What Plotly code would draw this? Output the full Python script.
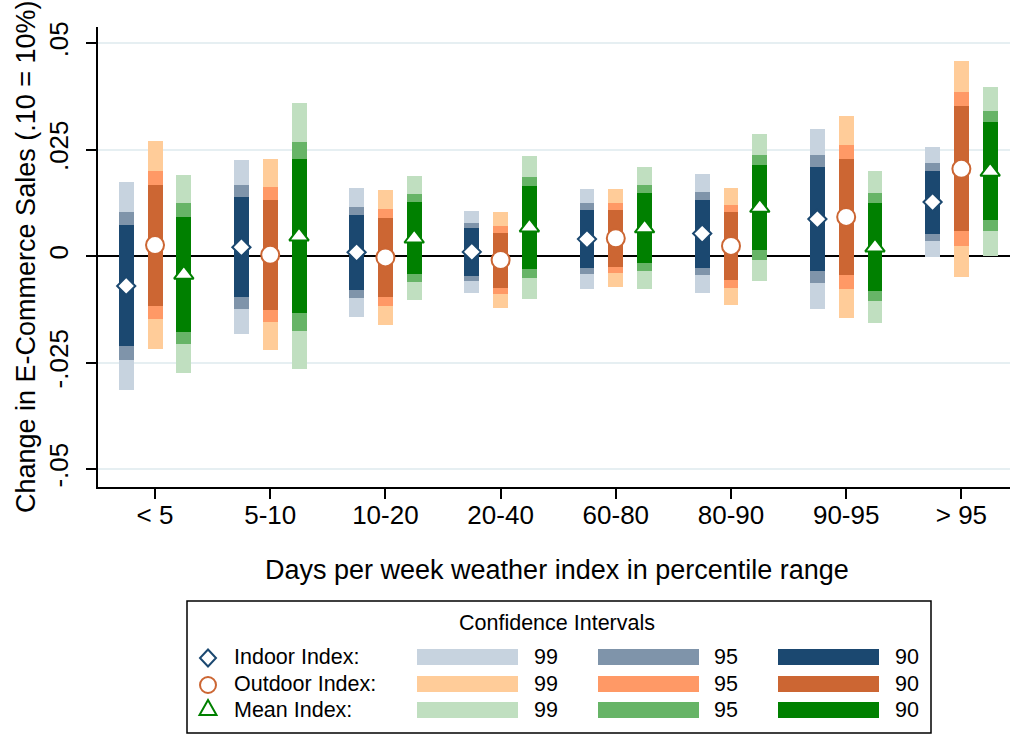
import plotly.graph_objects as go
import numpy as np

categories = ["< 5", "5-10", "10-20", "20-40", "60-80", "80-90", "90-95", "> 95"]

indoor_pt = [-0.0070, 0.0021, 0.0009, 0.0010, 0.0040, 0.0053, 0.0087, 0.0127]
indoor_lo90 = [-0.0211, -0.0096, -0.0079, -0.0047, -0.0027, -0.0027, -0.0036, 0.0052]
indoor_hi90 = [0.0072, 0.0139, 0.0096, 0.0066, 0.0108, 0.0133, 0.0210, 0.0201]
indoor_lo95 = [-0.0243, -0.0123, -0.0098, -0.0059, -0.0042, -0.0045, -0.0063, 0.0036]
indoor_hi95 = [0.0104, 0.0166, 0.0116, 0.0078, 0.0124, 0.0151, 0.0237, 0.0218]
indoor_lo99 = [-0.0314, -0.0182, -0.0142, -0.0087, -0.0076, -0.0086, -0.0125, -0.0002]
indoor_hi99 = [0.0175, 0.0225, 0.0160, 0.0106, 0.0157, 0.0193, 0.0299, 0.0256]

outdoor_pt = [0.0026, 0.0003, -0.0003, -0.0009, 0.0042, 0.0024, 0.0092, 0.0205]
outdoor_lo90 = [-0.0116, -0.0126, -0.0095, -0.0074, -0.0025, -0.0055, -0.0045, 0.0058]
outdoor_hi90 = [0.0167, 0.0133, 0.0089, 0.0055, 0.0108, 0.0103, 0.0229, 0.0352]
outdoor_lo95 = [-0.0148, -0.0155, -0.0116, -0.0089, -0.0039, -0.0074, -0.0077, 0.0024]
outdoor_hi95 = [0.0199, 0.0162, 0.0110, 0.0070, 0.0124, 0.0120, 0.0260, 0.0385]
outdoor_lo99 = [-0.0218, -0.0220, -0.0162, -0.0121, -0.0072, -0.0114, -0.0145, -0.0049]
outdoor_hi99 = [0.0270, 0.0228, 0.0156, 0.0103, 0.0157, 0.0160, 0.0329, 0.0459]

mean_pt = [-0.0043, 0.0047, 0.0042, 0.0068, 0.0066, 0.0114, 0.0021, 0.0199]
mean_lo90 = [-0.0177, -0.0134, -0.0042, -0.0029, -0.0016, 0.0014, -0.0082, 0.0084]
mean_hi90 = [0.0092, 0.0227, 0.0127, 0.0164, 0.0148, 0.0214, 0.0124, 0.0314]
mean_lo95 = [-0.0206, -0.0175, -0.0060, -0.0051, -0.0034, -0.0009, -0.0106, 0.0059]
mean_hi95 = [0.0124, 0.0268, 0.0146, 0.0185, 0.0167, 0.0237, 0.0148, 0.0340]
mean_lo99 = [-0.0274, -0.0265, -0.0103, -0.0100, -0.0077, -0.0059, -0.0157, 0.0001]
mean_hi99 = [0.0190, 0.0359, 0.0189, 0.0236, 0.0209, 0.0287, 0.0200, 0.0398]

ytick_vals = [-0.05, -0.025, 0, 0.025, 0.05]
ytick_text = ["-.05", "-.025", "0", ".025", ".05"]

FONT = "Liberation Sans, Arial, sans-serif"

series = [
    dict(name="Indoor Index:", off=-0.25, pt=indoor_pt,
         ci={99: (indoor_lo99, indoor_hi99), 95: (indoor_lo95, indoor_hi95), 90: (indoor_lo90, indoor_hi90)},
         colors={99: "#c7d3df", 95: "#7f94aa", 90: "#1b4870"},
         symbol="diamond", msize=14, lcolor="#1b4870"),
    dict(name="Outdoor Index:", off=0.0, pt=outdoor_pt,
         ci={99: (outdoor_lo99, outdoor_hi99), 95: (outdoor_lo95, outdoor_hi95), 90: (outdoor_lo90, outdoor_hi90)},
         colors={99: "#ffcc99", 95: "#ff9966", 90: "#cc6633"},
         symbol="circle", msize=18, lcolor="#cc6633"),
    dict(name="Mean Index:", off=0.25, pt=mean_pt,
         ci={99: (mean_lo99, mean_hi99), 95: (mean_lo95, mean_hi95), 90: (mean_lo90, mean_hi90)},
         colors={99: "#c0dfc0", 95: "#67b467", 90: "#008000"},
         symbol="triangle-up", msize=17, lcolor="#008000"),
]

idx = np.arange(len(categories))
BW = 0.13

fig = go.Figure()
for s in series:
    for lvl in (99, 95, 90):
        lo, hi = s["ci"][lvl]
        lo = np.array(lo)
        hi = np.array(hi)
        fig.add_trace(go.Bar(
            x=idx + s["off"], y=hi - lo, base=lo, width=BW,
            marker=dict(color=s["colors"][lvl], line=dict(width=0)),
            showlegend=False, hoverinfo="skip"))
for s in series:
    fig.add_trace(go.Scatter(
        x=idx + s["off"], y=s["pt"], mode="markers",
        marker=dict(symbol=s["symbol"], size=s["msize"], color="white",
                    line=dict(color=s["lcolor"], width=2)),
        showlegend=False, hoverinfo="skip", cliponaxis=False))

# Body margin is removed by post_script, so geometry below is in window pixels.
L, T, W, H = 98, 27, 912, 460
FW, FH = 1010, 736


def px(x):
    return (x - L) / W


def py(y):
    return (T + H - y) / H


shapes = []
annotations = []

# Axis titles
annotations.append(dict(text="Change in E-Commerce Sales (.10 = 10%)", xref="paper", yref="paper",
                        x=px(26), y=py(257), textangle=-90, showarrow=False,
                        xanchor="center", yanchor="middle",
                        font=dict(family=FONT, size=27, color="black")))
annotations.append(dict(text="Days per week weather index in percentile range", xref="paper", yref="paper",
                        x=px(557), y=py(570), showarrow=False, xanchor="center", yanchor="middle",
                        font=dict(family=FONT, size=27, color="black")))

# Legend box
shapes.append(dict(type="rect", xref="paper", yref="paper", x0=px(187), x1=px(931), y0=py(733), y1=py(601),
                   line=dict(color="black", width=1.5), fillcolor="white", layer="above"))
annotations.append(dict(text="Confidence Intervals", xref="paper", yref="paper", x=px(557), y=py(623),
                        showarrow=False, xanchor="center", yanchor="middle",
                        font=dict(family=FONT, size=21.5, color="black")))
row_y = [657, 684, 710]
sym_y = [658, 685, 708]
sw_x = [(417, 518, 546), (598, 699, 726), (778, 879, 907)]
levels = [99, 95, 90]
for s, ry, sy in zip(series, row_y, sym_y):
    cx = 208
    if s["symbol"] == "diamond":
        path = f"M {px(cx)} {py(sy-8.5)} L {px(cx+8)} {py(sy)} L {px(cx)} {py(sy+8.5)} L {px(cx-8)} {py(sy)} Z"
        shapes.append(dict(type="path", xref="paper", yref="paper", path=path,
                           line=dict(color=s["lcolor"], width=2), layer="above"))
    elif s["symbol"] == "circle":
        shapes.append(dict(type="circle", xref="paper", yref="paper", x0=px(cx-8), x1=px(cx+8),
                           y0=py(sy+8), y1=py(sy-8), line=dict(color=s["lcolor"], width=2), layer="above"))
    else:
        path = f"M {px(cx)} {py(sy-8)} L {px(cx+8.5)} {py(sy+7)} L {px(cx-8.5)} {py(sy+7)} Z"
        shapes.append(dict(type="path", xref="paper", yref="paper", path=path,
                           line=dict(color=s["lcolor"], width=2), layer="above"))
    annotations.append(dict(text=s["name"], xref="paper", yref="paper", x=px(232), y=py(ry),
                            showarrow=False, xanchor="left", yanchor="middle",
                            font=dict(family=FONT, size=21.5, color="black")))
    for (x0, x1, tx), lvl in zip(sw_x, levels):
        shapes.append(dict(type="rect", xref="paper", yref="paper", x0=px(x0), x1=px(x1),
                           y0=py(ry+8), y1=py(ry-8), fillcolor=s["colors"][lvl],
                           line=dict(width=0), layer="above"))
        annotations.append(dict(text=str(lvl), xref="paper", yref="paper", x=px(tx), y=py(ry),
                                showarrow=False, xanchor="center", yanchor="middle",
                                font=dict(family=FONT, size=21.5, color="black")))

fig.update_layout(
    width=FW, height=FH,
    margin=dict(l=L, r=FW - L - W, t=T, b=FH - T - H, pad=0),
    paper_bgcolor="white", plot_bgcolor="white",
    barmode="overlay", bargap=0,
    showlegend=False,
    shapes=shapes, annotations=annotations,
    font=dict(family=FONT, color="black"),
    xaxis=dict(range=[-0.495, 7.422], tickvals=list(idx), ticktext=categories,
               showgrid=False, zeroline=False, showline=True, linecolor="black", linewidth=1.5,
               ticks="outside", ticklen=10, tickwidth=1.5, tickcolor="black",
               ticklabelstandoff=-6,
               tickfont=dict(family=FONT, size=26, color="black")),
    yaxis=dict(range=[-0.0542, 0.0538], tickvals=ytick_vals, ticktext=ytick_text,
               tickangle=-90, showgrid=True, gridcolor="#e6eff2", gridwidth=1.5,
               zeroline=True, zerolinecolor="black", zerolinewidth=2,
               showline=True, linecolor="black", linewidth=1.5,
               ticks="outside", ticklen=10, tickwidth=1.5, tickcolor="black",
               ticklabelstandoff=8,
               tickfont=dict(family=FONT, size=26, color="black")),
)

fig.write_html("out.html", config={"displayModeBar": False},
               post_script="document.body.style.margin='0px';document.body.style.overflow='hidden';")
